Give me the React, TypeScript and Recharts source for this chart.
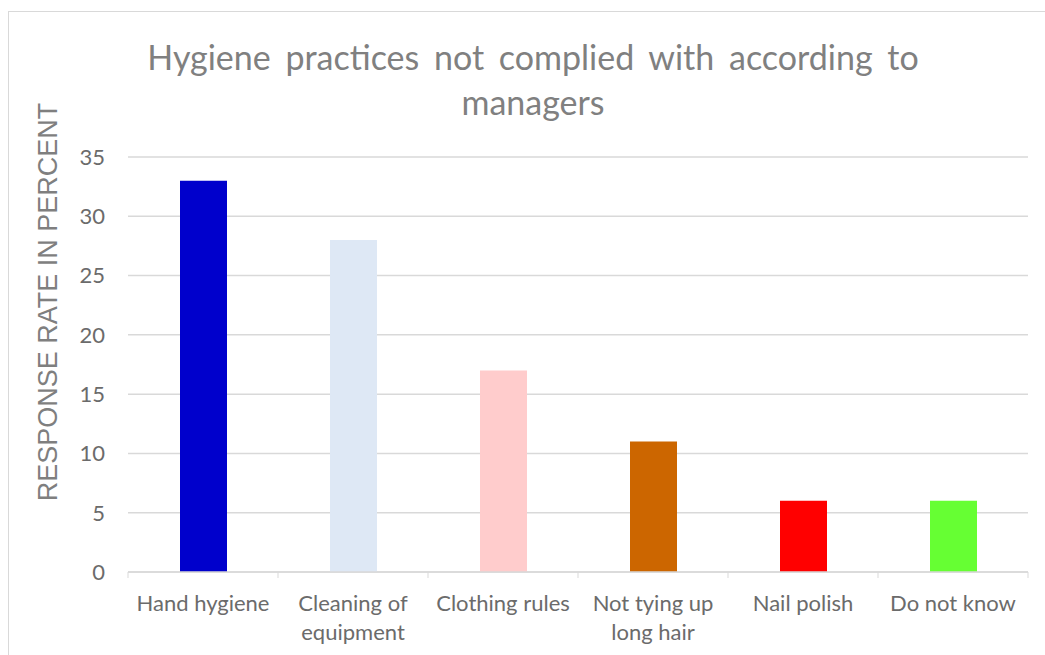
import { Bar, BarChart, CartesianGrid, Cell, XAxis, YAxis } from "recharts";

// Hygiene survey, managers' answers (percent of responses)
const categories = [
  "Hand hygiene",
  "Cleaning of equipment",
  "Clothing rules",
  "Not tying up long hair",
  "Nail polish",
  "Do not know",
];
const responseRates = [33, 28, 17, 11, 6, 6];
const barColors = ["#0000CC", "#DEE8F5", "#FFCCCC", "#CC6600", "#FF0000", "#66FF33"];
const yTicks = [0, 5, 10, 15, 20, 25, 30, 35];
const titleLines = ["Hygiene practices not complied with according to", "managers"];
const yLabel = "RESPONSE RATE IN PERCENT";

const data = categories.map((category, i) => ({ category, rate: responseRates[i] }));

const W = 1045;
const H = 655;
const PLOT_LEFT = 128;
const PLOT_RIGHT = 1028;
const BAND = (PLOT_RIGHT - PLOT_LEFT) / categories.length;
const INK = "#6b6b6b";
const GRID = "#d9d9d9";

// word wrap like Excel does for the category axis
function wrap(text: string, maxChars: number) {
  const lines: string[] = [];
  let cur = "";
  for (const w of text.split(" ")) {
    const next = cur ? cur + " " + w : w;
    if (next.length > maxChars && cur) {
      lines.push(cur);
      cur = w;
    } else {
      cur = next;
    }
  }
  if (cur) lines.push(cur);
  return lines;
}

function CategoryTick(props: any) {
  const { x, y, payload, index } = props;
  const lines = wrap(String(payload.value), 14);
  const last = index === categories.length - 1;
  return (
    <g>
      <line x1={x - BAND / 2} x2={x - BAND / 2} y1={y} y2={y + 6} stroke={GRID} />
      {last && <line x1={x + BAND / 2} x2={x + BAND / 2} y1={y} y2={y + 6} stroke={GRID} />}
      {lines.map((l, i) => (
        <text
          key={i}
          x={x}
          y={y + 39 + i * 29}
          textAnchor="middle"
          fill={INK}
          fontSize={22}
          fontFamily="Lato, sans-serif"
        >
          {l}
        </text>
      ))}
    </g>
  );
}

export default function App() {
  return (
    <div style={{ position: "absolute", left: 0, top: 0, width: W, height: H, background: "#fff" }}>
      <BarChart
        width={W}
        height={H}
        data={data}
        margin={{ top: 157, right: W - PLOT_RIGHT, bottom: 0, left: PLOT_LEFT - 60 }}
        barSize={47}
      >
        <CartesianGrid vertical={false} stroke={GRID} strokeWidth={1.5} />
        <XAxis
          dataKey="category"
          height={83}
          interval={0}
          tickLine={false}
          tickSize={0}
          tickMargin={0}
          axisLine={{ stroke: GRID, strokeWidth: 1.5 }}
          tick={<CategoryTick />}
        />
        <YAxis
          width={60}
          domain={[0, 35]}
          ticks={yTicks}
          interval={0}
          axisLine={false}
          tickLine={false}
          tickMargin={17}
          tick={{ fill: INK, fontSize: 22, fontFamily: "Lato, sans-serif" }}
        />
        <Bar dataKey="rate" isAnimationActive={false}>
          {data.map((d, i) => (
            <Cell key={d.category} fill={barColors[i]} />
          ))}
        </Bar>
      </BarChart>
      <svg
        width={W}
        height={H}
        style={{ position: "absolute", left: 0, top: 0, pointerEvents: "none" }}
      >
        <line x1={8} x2={W} y1={11.5} y2={11.5} stroke={GRID} />
        <line x1={8.5} x2={8.5} y1={11} y2={H} stroke={GRID} />
        {titleLines.map((t, i) => (
          <text
            key={i}
            x={533}
            y={70 + i * 45}
            textAnchor="middle"
            fill="#808080"
            fontSize={34}
            fontFamily="Lato, sans-serif"
            wordSpacing={6}
          >
            {t}
          </text>
        ))}
        <text
          transform="translate(57 302) rotate(-90)"
          textAnchor="middle"
          fill="#7f7f7f"
          fontSize={27}
          fontFamily="'Liberation Sans', Arial, sans-serif"
        >
          {yLabel}
        </text>
      </svg>
    </div>
  );
}
